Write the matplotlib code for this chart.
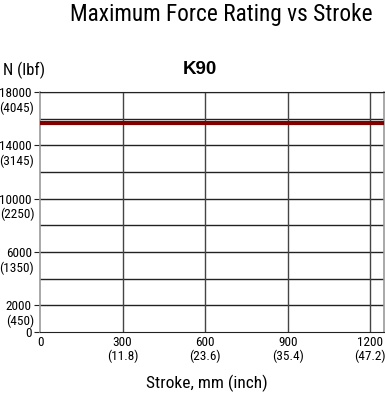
import matplotlib.pyplot as plt
from matplotlib.transforms import blended_transform_factory

plt.rcParams['font.family'] = ['Roboto Condensed', 'Liberation Sans', 'DejaVu Sans']

# data
stroke_mm = [0, 1250]
force_n = [15700, 15700]

y_ticks = [0, 2000, 6000, 10000, 14000, 18000]
y_lbf = ['', '(450)', '(1350)', '(2250)', '(3145)', '(4045)']
x_ticks = [0, 300, 600, 900, 1200]
x_inch = ['', '(11.8)', '(23.6)', '(35.4)', '(47.2)']

fig = plt.figure(figsize=(3.85, 3.98), dpi=100)
ax = fig.add_axes([40 / 385, 1 - 332 / 398, 344 / 385, 240 / 398])

ax.set_xlim(0, 1250)
ax.set_ylim(0, 18000)

# grid
for y in range(2000, 18001, 2000):
    ax.axhline(y, color='#222222', lw=1, zorder=1)
for x in x_ticks[1:]:
    ax.axvline(x, color='#444444', lw=1, zorder=1)

ax.plot(stroke_mm, force_n, color='#800000', lw=3, solid_capstyle='butt', zorder=3)

for side in ['left', 'right']:
    ax.spines[side].set_color('#999999')
    ax.spines[side].set_linewidth(1.2)
ax.spines['top'].set_color('#222222')
ax.spines['bottom'].set_color('#222222')

ax.set_yticks(y_ticks)
ax.set_yticklabels([str(v) for v in y_ticks], fontsize=9.5)
ax.set_xticks(x_ticks)
ax.set_xticklabels([str(v) for v in x_ticks], fontsize=9.5)
ax.tick_params(axis='y', length=4, pad=2, color='#222222')
ax.tick_params(axis='x', length=0, pad=3)

# secondary unit labels
ty = blended_transform_factory(ax.transAxes, ax.transData)
for v, lab in zip(y_ticks, y_lbf):
    if lab:
        ax.text(-0.017, v - 1200, lab, transform=ty, ha='right', va='center', fontsize=9.5)
tx = blended_transform_factory(ax.transData, ax.transAxes)
for v, lab in zip(x_ticks, x_inch):
    if lab:
        ax.text(v, -0.1, lab, transform=tx, ha='center', va='center', fontsize=9.5)

fig.text(221 / 385, 1 - 15 / 398, 'Maximum Force Rating vs Stroke', ha='center', va='center', fontsize=16.8)
fig.text(200 / 385, 1 - 70 / 398, 'K90', ha='center', va='center', fontsize=13.5,
         fontweight='bold', family=['Liberation Sans', 'DejaVu Sans'])
fig.text(3 / 385, 1 - 70 / 398, 'N (lbf)', ha='left', va='center', fontsize=12)
fig.text(207 / 385, 1 - 383 / 398, 'Stroke, mm (inch)', ha='center', va='center', fontsize=12.5)

fig.savefig('out.png', dpi=100)
